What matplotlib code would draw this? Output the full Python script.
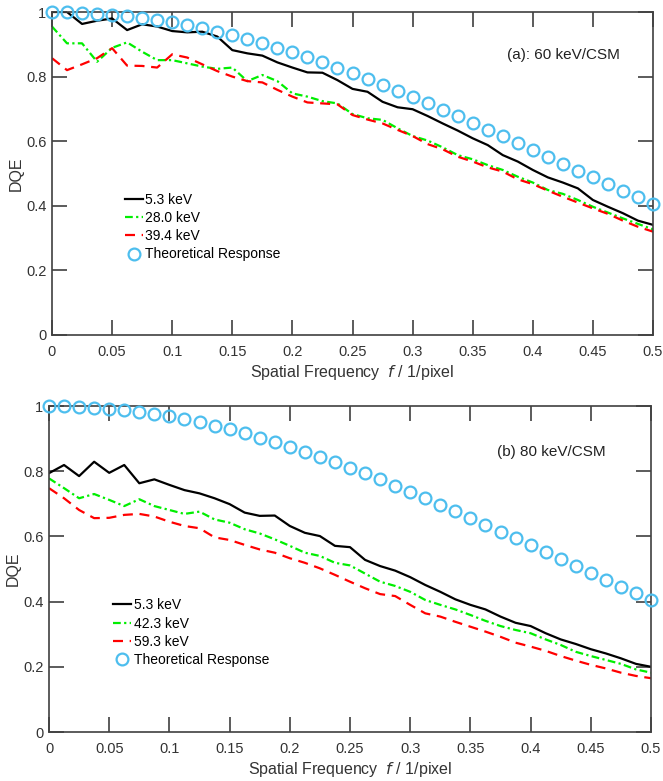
import matplotlib
matplotlib.use("Agg")
import matplotlib.pyplot as plt

plt.rcParams['font.family'] = ['Liberation Sans', 'DejaVu Sans']

# spatial frequency samples (1/pixel)
freq = [0.0, 0.0125, 0.025, 0.0375, 0.05, 0.0625, 0.075, 0.0875, 0.1, 0.1125,
        0.125, 0.1375, 0.15, 0.1625, 0.175, 0.1875, 0.2, 0.2125, 0.225, 0.2375,
        0.25, 0.2625, 0.275, 0.2875, 0.3, 0.3125, 0.325, 0.3375, 0.35, 0.3625,
        0.375, 0.3875, 0.4, 0.4125, 0.425, 0.4375, 0.45, 0.4625, 0.475, 0.4875, 0.5]

theory = [1.000, 0.999, 0.998, 0.995, 0.992, 0.987, 0.982, 0.975, 0.968, 0.959,
          0.950, 0.939, 0.928, 0.916, 0.903, 0.890, 0.875, 0.860, 0.844, 0.828,
          0.811, 0.793, 0.775, 0.756, 0.737, 0.717, 0.697, 0.677, 0.657, 0.636,
          0.615, 0.594, 0.573, 0.552, 0.530, 0.509, 0.488, 0.467, 0.446, 0.426, 0.405]

# panel (a): 60 keV/CSM
a_53 = [1.000, 1.000, 0.963, 0.973, 0.980, 0.944, 0.962, 0.955, 0.941, 0.937,
        0.939, 0.924, 0.882, 0.872, 0.865, 0.844, 0.828, 0.813, 0.812, 0.789,
        0.762, 0.753, 0.722, 0.705, 0.699, 0.678, 0.655, 0.633, 0.609, 0.588,
        0.557, 0.537, 0.511, 0.488, 0.472, 0.454, 0.418, 0.397, 0.377, 0.354, 0.341]
a_280 = [0.955, 0.903, 0.903, 0.846, 0.889, 0.906, 0.877, 0.851, 0.851, 0.841,
         0.831, 0.824, 0.828, 0.786, 0.805, 0.786, 0.748, 0.738, 0.724, 0.717,
         0.684, 0.671, 0.666, 0.640, 0.616, 0.602, 0.581, 0.557, 0.544, 0.526,
         0.511, 0.490, 0.472, 0.449, 0.437, 0.418, 0.397, 0.379, 0.361, 0.344, 0.327]
a_394 = [0.857, 0.820, 0.838, 0.857, 0.888, 0.834, 0.833, 0.828, 0.869, 0.859,
         0.838, 0.817, 0.800, 0.786, 0.782, 0.759, 0.738, 0.720, 0.717, 0.714,
         0.681, 0.667, 0.655, 0.635, 0.616, 0.591, 0.575, 0.552, 0.537, 0.519,
         0.506, 0.482, 0.467, 0.447, 0.428, 0.410, 0.392, 0.375, 0.354, 0.335, 0.320]

# panel (b): 80 keV/CSM
b_53 = [0.794, 0.819, 0.785, 0.829, 0.795, 0.819, 0.763, 0.775, 0.758, 0.742,
        0.732, 0.717, 0.699, 0.673, 0.663, 0.664, 0.632, 0.611, 0.601, 0.571,
        0.567, 0.528, 0.509, 0.495, 0.475, 0.451, 0.430, 0.407, 0.390, 0.376,
        0.354, 0.335, 0.325, 0.303, 0.284, 0.270, 0.254, 0.241, 0.226, 0.209, 0.200]
b_423 = [0.778, 0.748, 0.717, 0.730, 0.712, 0.693, 0.714, 0.693, 0.681, 0.669,
         0.676, 0.652, 0.642, 0.622, 0.609, 0.591, 0.571, 0.550, 0.540, 0.519,
         0.511, 0.486, 0.461, 0.448, 0.430, 0.405, 0.390, 0.376, 0.359, 0.341,
         0.325, 0.313, 0.303, 0.284, 0.267, 0.246, 0.233, 0.221, 0.209, 0.192, 0.182]
b_593 = [0.748, 0.717, 0.681, 0.656, 0.657, 0.666, 0.669, 0.661, 0.645, 0.632,
         0.625, 0.597, 0.589, 0.574, 0.560, 0.550, 0.533, 0.519, 0.502, 0.482,
         0.461, 0.441, 0.423, 0.417, 0.390, 0.364, 0.354, 0.338, 0.323, 0.308,
         0.292, 0.274, 0.262, 0.249, 0.233, 0.219, 0.206, 0.195, 0.182, 0.172, 0.165]

xticks = [0, 0.05, 0.1, 0.15, 0.2, 0.25, 0.3, 0.35, 0.4, 0.45, 0.5]
xticklabels = ['0', '0.05', '0.1', '0.15', '0.2', '0.25', '0.3', '0.35', '0.4', '0.45', '0.5']
yticks = [0, 0.2, 0.4, 0.6, 0.8, 1.0]
yticklabels = ['0', '0.2', '0.4', '0.6', '0.8', '1']

panels = [
    dict(rect=[52/663, 1-335/781, 601/663, 323/781], title='(a): 60 keV/CSM',
         tpos=(0.945, 0.868),
         series=[(a_53, '5.3 keV'), (a_280, '28.0 keV'), (a_394, '39.4 keV')],
         leg=(0.122, 0.44)),
    dict(rect=[49/663, 1-732/781, 602/663, 326/781], title='(b) 80 keV/CSM',
         tpos=(0.925, 0.86),
         series=[(b_53, '5.3 keV'), (b_423, '42.3 keV'), (b_593, '59.3 keV')],
         leg=(0.107, 0.41)),
]

axcol = '#404040'
blue = '#4dbeee'

fig = plt.figure(figsize=(6.63, 7.81), dpi=100)
for p in panels:
    ax = fig.add_axes(p['rect'])
    (s1, l1), (s2, l2), (s3, l3) = p['series']
    ax.plot(freq, s1, color='black', lw=1.6, label=l1)
    ax.plot(freq, s2, color='#00ee00', lw=1.6, dashes=(3.5, 1.5, 1, 1.5), label=l2)
    ax.plot(freq, s3, color='#ff0000', lw=1.6, dashes=(4.5, 3), label=l3)
    ax.plot(freq, theory, ls='none', marker='o', ms=8.5, mfc='none', mec=blue,
            mew=1.6, clip_on=False, label='Theoretical Response', zorder=5)
    ax.set_xlim(0, 0.5)
    ax.set_ylim(0, 1)
    ax.set_xticks(xticks)
    ax.set_xticklabels(xticklabels)
    ax.set_yticks(yticks)
    ax.set_yticklabels(yticklabels)
    ax.tick_params(direction='in', length=11, width=1.2, color=axcol,
                   labelcolor='#333333', labelsize=10.5, top=True, right=True)
    ax.tick_params(axis='x', pad=7)
    ax.tick_params(axis='y', pad=4)
    for sp in ax.spines.values():
        sp.set_color(axcol)
        sp.set_linewidth(1.2)
    ax.set_xlabel('Spatial Frequency  $\\mathit{f}$ / 1/pixel', fontsize=11.5,
                  color='#333333', labelpad=3)
    ax.set_ylabel('DQE', fontsize=11.5, color='#333333', labelpad=2)
    ax.text(p['tpos'][0], p['tpos'][1], p['title'], transform=ax.transAxes,
            ha='right', va='center', fontsize=11, color='#222222')
    ax.legend(loc='upper left', bbox_to_anchor=p['leg'], frameon=False,
              fontsize=10, handlelength=1.3, handletextpad=0.15,
              labelspacing=0.3, borderpad=0, borderaxespad=0)

fig.savefig('out.png', dpi=100)
